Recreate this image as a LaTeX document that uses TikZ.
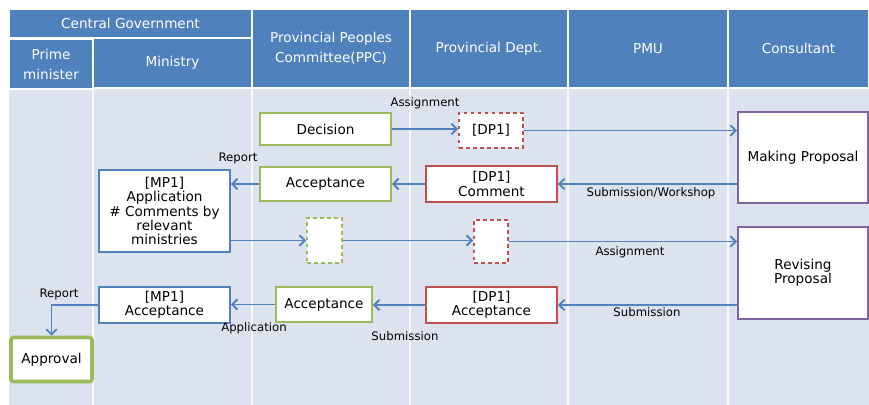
\documentclass[tikz,border=0pt]{standalone}
\usepackage{fontspec}
\setmainfont{DejaVu Sans}
\usetikzlibrary{arrows.meta,calc}

\definecolor{headblue}{HTML}{4F81BD}
\definecolor{laneblue}{HTML}{DCE3EF}
\definecolor{boxgreen}{HTML}{9BBB59}
\definecolor{boxred}{HTML}{C0504D}
\definecolor{boxpurple}{HTML}{8064A2}
\definecolor{boxblue}{HTML}{4F81BD}
\definecolor{flowblue}{HTML}{5283BE}

\tikzset{
  wh/.style 2 args={
    minimum width=#1*0.03cm,
    minimum height=#2*0.03cm
  },
  head/.style={
    fill=headblue,
    draw=white,
    line width=1.2pt,
    text=white,
    align=center,
    inner sep=0pt,
    font=\fontsize{11.6}{17}\selectfont
  },
  task/.style={
    fill=white,
    line width=1.6pt,
    align=center,
    inner sep=0pt,
    font=\fontsize{11.6}{12.2}\selectfont
  },
  ppc/.style={task, draw=boxgreen},
  dept/.style={task, draw=boxred},
  mini/.style={task, draw=boxblue},
  cons/.style={task, draw=boxpurple},
  flow/.style={
    draw=flowblue,
    line width=1.6pt,
    -{Straight Barb[length=4.5pt,width=9pt]}
  },
  tag/.style={
    inner sep=0pt,
    font=\fontsize{10}{12}\selectfont
  }
}

\begin{document}
\begin{tikzpicture}[x=0.03cm, y=-0.03cm]
    \useasboundingbox (0,0) rectangle (869,405);

    % lanes
    \fill[laneblue] (9,88) rectangle (869,405);
    \foreach \xl in {93,252,410,568,728}
        \draw[white, line width=1.5pt, opacity=0.85] (\xl,88) -- (\xl,405);

    % header row
    \node[head, wh={243}{29}] (cg) at (130.5,23.5) {Central Government};
    \node[head, wh={84}{50}] (pm) at (51,64) {Prime\\minister};
    \node[head, wh={159}{50}] (mn) at (172.5,63) {Ministry};
    \node[head, wh={158}{79}] (ppcH) at (331,48.5) {Provincial Peoples\\Committee(PPC)};
    \node[head, wh={158}{79}] (deptH) at (489,48.5) {Provincial Dept.};
    \node[head, wh={160}{79}] (pmuH) at (648,48.5) {PMU};
    \node[head, wh={141}{79}] (consH) at (798.5,48.5) {Consultant};

    % tasks
    \node[ppc, wh={131}{32}] (dec) at (325.5,129) {Decision};
    \node[ppc, wh={131}{34}] (acc1) at (325.5,184) {Acceptance};
    \node[mini, wh={131}{82}] (mp1a) at (164.5,211) {[MP1]\\Application\\\# Comments by\\relevant\\ministries};
    \node[ppc, dashed, wh={35}{45}] (dg) at (324.5,240.5) {};
    \node[dept, dashed, wh={64}{35}] (dp1a) at (491,130.5) {[DP1]};
    \node[dept, wh={131}{36}] (dp1c) at (491.5,184) {[DP1]\\Comment};
    \node[dept, dashed, wh={34}{43}] (dr) at (491,241.5) {};
    \node[cons, wh={130}{91}] (mkp) at (803,157.5) {Making Proposal};
    \node[cons, wh={130}{92}] (rvp) at (803,273) {Revising\\Proposal};
    \node[mini, wh={131}{36}] (mp1acc) at (164.5,305) {[MP1]\\Acceptance};
    \node[ppc, wh={96}{35}] (acc2) at (324,304.5) {Acceptance};
    \node[dept, wh={131}{36}] (dp1acc) at (491.5,305) {[DP1]\\Acceptance};
    \node[ppc, line width=3pt, rounded corners=2pt, wh={81}{44}] (appr) at (51.5,359.5) {Approval};

    % flows
    \draw[flow] (dec.east) -- (dec.east -| dp1a.west);
    \draw[flow] (dp1a.east) -- (dp1a.east -| mkp.west);
    \draw[flow] (mkp.west |- dp1c) -- (dp1c.east);
    \draw[flow] (dp1c.west) -- (acc1.east);
    \draw[flow] (acc1.west) -- (acc1.west -| mp1a.east);
    \draw[flow] (mp1a.east |- dg.west) -- (dg.west);
    \draw[flow] (dg.east) -- (dg.east -| dr.west);
    \draw[flow] (dr.east) -- (dr.east -| rvp.west);
    \draw[flow] (rvp.west |- dp1acc) -- (dp1acc.east);
    \draw[flow] (dp1acc.west) -- (dp1acc.west -| acc2.east);
    \draw[flow] (acc2.west) -- (acc2.west -| mp1acc.east);
    \draw[flow] (mp1acc.west) -| (appr.north);

    % flow labels
    \node[tag] (tAssignA) at (425,103) {Assignment};
    \node[tag] (tReportA) at (238,158) {Report};
    \node[tag] (tSubWork) at (651,193) {Submission/Workshop};
    \node[tag] (tAssignB) at (630,252) {Assignment};
    \node[tag] (tSubA) at (647,312) {Submission};
    \node[tag] (tSubB) at (405,336) {Submission};
    \node[tag] (tAppl) at (254,328) {Application};
    \node[tag] (tReportB) at (59,294) {Report};
\end{tikzpicture}
\end{document}
